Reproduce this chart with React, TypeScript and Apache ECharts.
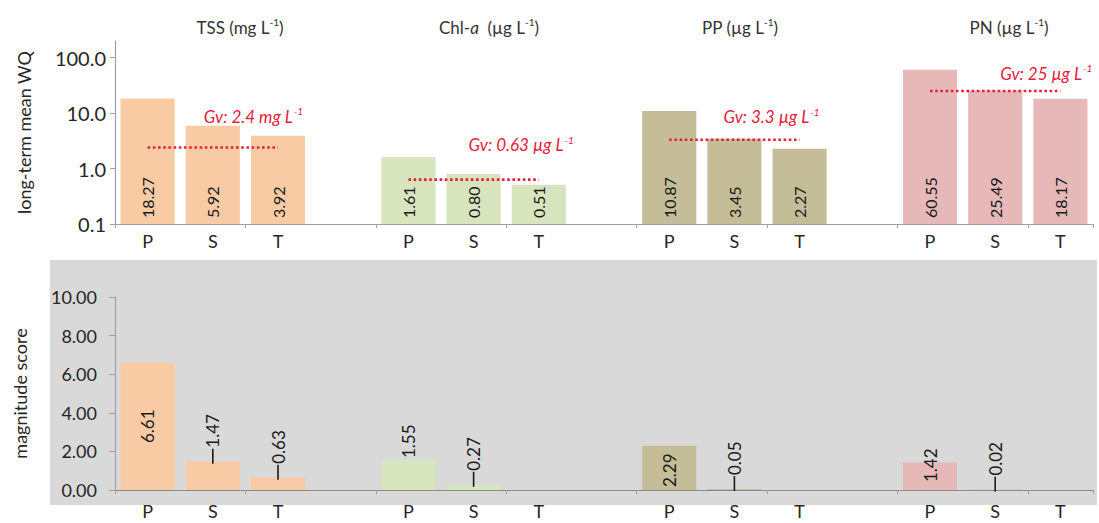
import React, { useEffect, useRef } from 'react';
import * as echarts from 'echarts';

// ---- data ----
const categories = ['P', 'S', 'T', '', 'P', 'S', 'T', '', 'P', 'S', 'T', '', 'P', 'S', 'T'];
const groupNames = ['TSS', 'Chl-a', 'PP', 'PN'];
const meanTSS = [18.27, 5.92, 3.92];
const meanChl = [1.61, 0.8, 0.51];
const meanPP = [10.87, 3.45, 2.27];
const meanPN = [60.55, 25.49, 18.17];
const scoreTSS = [6.61, 1.47, 0.63];
const scoreChl = [1.55, 0.27, null];
const scorePP = [2.29, 0.05, null];
const scorePN = [1.42, 0.02, null];
const guidelines = [2.4, 0.63, 3.3, 25];
const guidelineUnits = ['mg L', 'µg L', 'µg L', 'µg L'];
const topTickLabels = ['0.1', '1.0', '10.0', '100.0'];

// ---- styles ----
const FONT = 'Lato, "Open Sans", sans-serif';
const colors = ['#f9cba5', '#d8e4bd', '#c4bd97', '#e6b9b8'];
const gvLabelOffsets = [[-9, -16], [-5, -20], [-11, -8], [5, -3]];
// bottom label modes per site index within each group
const bottomModes = [
  ['inside', 'leader', 'leader'],
  ['top', 'leader', 'none'],
  ['insideBottom3', 'leader', 'none'],
  ['insideBottom8', 'leader', 'none'],
];
const titlePos = [235, 484, 735, 1004];

const meanGroups = [meanTSS, meanChl, meanPP, meanPN];
const scoreGroups = [scoreTSS, scoreChl, scorePP, scorePN];
const toLog = (v: number) => Math.log10(v) + 1; // axis 0 -> 0.1

function buildOption() {
  const topBarData = categories.map((c, i) => {
    const g = Math.floor(i / 4);
    const s = i % 4;
    if (s === 3) return null;
    const v = meanGroups[g][s];
    return { value: toLog(v), raw: v, itemStyle: { color: colors[g] } };
  });

  const guideData = categories.map((c, i) => {
    const g = Math.floor(i / 4);
    const s = i % 4;
    if (s === 3) return null;
    const val = toLog(guidelines[g]);
    if (s === 1) {
      return {
        value: val,
        label: {
          show: true,
          position: 'top',
          align: 'left',
          distance: 5,
          offset: gvLabelOffsets[g],
          formatter: `{t|Gv: ${guidelines[g]} ${guidelineUnits[g]}}{s|-1}`,
          rich: {
            t: { fontSize: 17, fontStyle: 'italic', color: '#e8203a', fontFamily: FONT, lineHeight: 20 },
            s: { fontSize: 10, fontStyle: 'italic', color: '#e8203a', fontFamily: FONT, verticalAlign: 'top', padding: [0, 0, 0, 1] },
          },
        },
      };
    }
    return val;
  });

  const bottomBarData = categories.map((c, i) => {
    const g = Math.floor(i / 4);
    const s = i % 4;
    if (s === 3) return null;
    const v = scoreGroups[g][s];
    if (v === null) return null;
    const mode = bottomModes[g][s];
    let label: any = { show: true };
    if (mode === 'inside') {
      label = { show: true, position: 'inside', rotate: 90, align: 'center', verticalAlign: 'middle' };
    } else if (mode === 'top') {
      label = { show: true, position: 'top', rotate: 90, align: 'left', verticalAlign: 'middle', distance: 2 };
    } else if (mode.indexOf('insideBottom') === 0) {
      label = {
        show: true, position: 'insideBottom', rotate: 90, align: 'left', verticalAlign: 'middle',
        distance: Number(mode.replace('insideBottom', '')),
      };
    } else if (mode === 'leader') {
      label = {
        show: true, position: 'top', rotate: 90, align: 'left', verticalAlign: 'middle', distance: -2,
        formatter: `{l|}{v|${v.toFixed(2)}}`,
      };
    }
    return { value: v, raw: v, itemStyle: { color: colors[g] }, label };
  });

  const guideLineStyle = { color: '#e8203a', width: 2.6, type: 'dotted' as const };

  const axisLineColor = '#a0a0a0';

  return {
    animation: false,
    textStyle: { fontFamily: FONT },
    title: groupNames.map((name, g) => ({
      text:
        g === 1
          ? 'Chl-{i|a}  (µg L{s|-1})'
          : `${name} (${g === 0 ? 'mg' : 'µg'} L{s|-1})`,
      left: titlePos[g],
      top: 12,
      textAlign: 'center',
      textStyle: {
        fontSize: 17,
        fontWeight: 'normal',
        color: '#333333',
        fontFamily: FONT,
        lineHeight: 20,
        rich: {
          s: { fontSize: 10, color: '#333333', fontFamily: FONT, verticalAlign: 'top', lineHeight: 20 },
          i: { fontSize: 17, fontStyle: 'italic', color: '#333333', fontFamily: FONT, lineHeight: 20 },
        },
      },
    })),
    graphic: [
      {
        type: 'rect',
        z: -100,
        silent: true,
        shape: { x: 50, y: 260, width: 1047, height: 245 },
        style: { fill: '#d9d9d9' },
      },
    ],
    grid: [
      { left: 115, right: 6, top: 41, bottom: 299 },
      { left: 115, right: 6, top: 297, bottom: 33 },
    ],
    xAxis: [0, 1].map((gi) => ({
      type: 'category',
      gridIndex: gi,
      data: categories,
      boundaryGap: true,
      axisLine: { show: true, lineStyle: { color: gi === 0 ? axisLineColor : '#8a8a8a', width: 1.2 } },
      axisTick: { show: true, interval: 1, length: 4, lineStyle: { color: axisLineColor } },
      axisLabel: {
        interval: 0,
        fontSize: 18,
        lineHeight: 18,
        color: '#262626',
        fontFamily: FONT,
        margin: gi === 0 ? 8 : 12,
      },
      splitLine: { show: false },
    })),
    yAxis: [
      {
        type: 'value',
        gridIndex: 0,
        min: 0,
        max: 3.3,
        interval: 1,
        name: 'long-term mean WQ',
        nameLocation: 'middle',
        nameGap: 82,
        nameTextStyle: { fontSize: 18, color: '#262626', fontFamily: FONT },
        axisLine: { show: true, lineStyle: { color: axisLineColor, width: 1.2 } },
        axisTick: { show: true, length: 5, lineStyle: { color: axisLineColor } },
        axisLabel: {
          fontSize: 20,
          color: '#262626',
          fontFamily: FONT,
          margin: 9,
          showMaxLabel: false,
          formatter: (v: number) => {
            const idx = Math.round(v);
            return Math.abs(v - idx) < 1e-6 && topTickLabels[idx] ? topTickLabels[idx] : '';
          },
        },
        splitLine: { show: false },
      },
      {
        type: 'value',
        gridIndex: 1,
        min: 0,
        max: 10,
        interval: 2,
        name: 'magnitude score',
        nameLocation: 'middle',
        nameGap: 86,
        nameTextStyle: { fontSize: 18, color: '#262626', fontFamily: FONT },
        axisLine: { show: true, lineStyle: { color: axisLineColor, width: 1.2 } },
        axisTick: { show: true, length: 6, lineStyle: { color: axisLineColor } },
        axisLabel: {
          fontSize: 18,
          color: '#262626',
          fontFamily: FONT,
          margin: 18,
          formatter: (v: number) => v.toFixed(2),
        },
        splitLine: { show: false },
      },
    ],
    series: [
      {
        type: 'bar',
        xAxisIndex: 0,
        yAxisIndex: 0,
        data: topBarData,
        barCategoryGap: '17%',
        silent: true,
        label: {
          show: true,
          position: 'insideBottom',
          rotate: 90,
          align: 'left',
          verticalAlign: 'middle',
          distance: 6,
          fontSize: 16,
          color: '#1a1a1a',
          fontFamily: FONT,
          formatter: (p: any) => (p.data && p.data.raw != null ? p.data.raw.toFixed(2) : ''),
        },
      },
      {
        type: 'line',
        xAxisIndex: 0,
        yAxisIndex: 0,
        data: guideData,
        symbol: 'circle',
        symbolSize: 0,
        showSymbol: true,
        silent: true,
        connectNulls: false,
        itemStyle: { color: 'rgba(0,0,0,0)' },
        lineStyle: guideLineStyle,
        z: 5,
      },
      {
        type: 'bar',
        xAxisIndex: 1,
        yAxisIndex: 1,
        data: bottomBarData,
        barCategoryGap: '17%',
        silent: true,
        label: {
          show: true,
          fontSize: 17,
          color: '#1a1a1a',
          fontFamily: FONT,
          formatter: (p: any) => (p.data && p.data.raw != null ? p.data.raw.toFixed(2) : ''),
          rich: {
            l: { width: 15, height: 1.6, backgroundColor: '#1a1a1a' },
            v: { fontSize: 17, color: '#1a1a1a', fontFamily: FONT, padding: [0, 0, 0, 1] },
          },
        },
      },
    ],
  };
}

export default function App() {
  const ref = useRef<HTMLDivElement>(null);
  useEffect(() => {
    document.body.style.margin = '0';
    if (!ref.current) return;
    const chart = echarts.init(ref.current, undefined, { renderer: 'svg' });
    chart.setOption(buildOption() as any);
    return () => chart.dispose();
  }, []);
  return <div ref={ref} style={{ width: 1099, height: 523, background: '#ffffff' }} />;
}
